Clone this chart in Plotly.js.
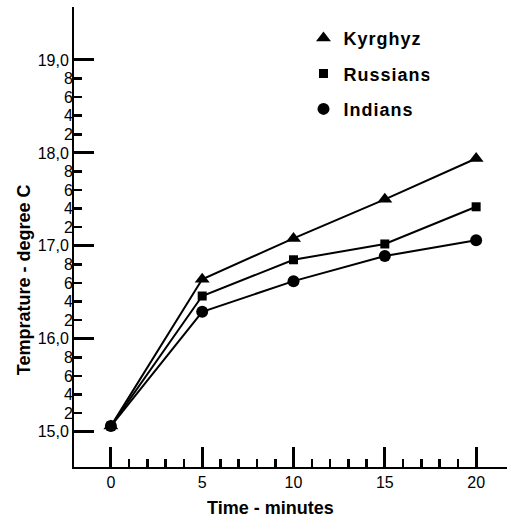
<!DOCTYPE html>
<html>
<head>
<meta charset="utf-8">
<script src="https://cdn.plot.ly/plotly-3.0.1.min.js"></script>
<style>html,body{margin:0;padding:0;background:#fff;}#chart{width:508px;height:518px;}
#chart .legendtext{letter-spacing:1px;}</style>
</head>
<body>
<div id="chart"></div>
<script>
const minutes = [0, 5, 10, 15, 20];
const kyrghyz = [15.06, 16.64, 17.08, 17.50, 17.94];
const russians = [15.06, 16.46, 16.85, 17.02, 17.42];
const indians = [15.06, 16.29, 16.62, 16.89, 17.06];

const yMajorVals = [15, 16, 17, 18, 19];
const yMajorText = ["15,0", "16,0", "17,0", "18,0", "19,0"];
const yMinorVals = [15.2, 15.4, 15.6, 15.8, 16.2, 16.4, 16.6, 16.8, 17.2, 17.4, 17.6, 17.8, 18.2, 18.4, 18.6, 18.8];
const yMinorText = ["2","4","6","8","2","4","6","8","2","4","6","8","2","4","6","8"];
const xMajorVals = [0, 5, 10, 15, 20];
const xMinorVals = [1,2,3,4,6,7,8,9,11,12,13,14,16,17,18,19];

const seriesNames = ["Kyrghyz", "Russians", "Indians"];
const seriesData = [kyrghyz, russians, indians];
const symbols = ["triangle-up", "square", "circle"];
const sizes = [13, 9, 12];

const font = "Liberation Sans, Arial, sans-serif";
const traces = [];
seriesData.forEach((ys, i) => {
  traces.push({
    x: minutes, y: ys, type: "scatter", mode: "lines+markers",
    name: seriesNames[i], showlegend: false,
    line: {color: "#000", width: 2},
    marker: {symbol: symbols[i], size: sizes[i], color: "#000"}
  });
});
seriesNames.forEach((n, i) => {
  traces.push({
    x: [null], y: [null], type: "scatter", mode: "markers",
    name: n, legendgroup: "g" + i, showlegend: true,
    marker: {symbol: symbols[i], size: sizes[i], color: "#000"}
  });
});
// empty traces so the overlay (minor-tick) axes get drawn
traces.push({x: [null], y: [null], xaxis: "x2", yaxis: "y", type: "scatter", mode: "markers", showlegend: false, hoverinfo: "skip"});
traces.push({x: [null], y: [null], xaxis: "x", yaxis: "y2", type: "scatter", mode: "markers", showlegend: false, hoverinfo: "skip"});

const xr = [-2.02, 21.69];
const yr = [14.62, 19.57];
const tf = {family: font, size: 16, color: "#000"};
const layout = {
  width: 508, height: 518,
  margin: {l: 74, r: 1, t: 7, b: 51},
  paper_bgcolor: "#fff", plot_bgcolor: "#fff",
  font: {family: font, color: "#000", size: 15},
  xaxis: {
    range: xr, showgrid: false, zeroline: false, showline: true, linecolor: "#000", linewidth: 2,
    tickmode: "array", tickvals: xMajorVals, ticktext: xMajorVals.map(String),
    ticks: "inside", ticklen: 20, tickwidth: 3, tickcolor: "#000", tickfont: tf
  },
  xaxis2: {
    overlaying: "x", anchor: "y", side: "bottom", range: xr, showgrid: false, zeroline: false, showline: false,
    tickmode: "array", tickvals: xMinorVals, showticklabels: false,
    ticks: "inside", ticklen: 8, tickwidth: 2.5, tickcolor: "#000"
  },
  yaxis: {
    range: yr, showgrid: false, zeroline: false, showline: true, linecolor: "#000", linewidth: 2,
    tickmode: "array", tickvals: yMajorVals, ticktext: yMajorText,
    ticks: "inside", ticklen: 20, tickwidth: 3, tickcolor: "#000", tickfont: tf
  },
  yaxis2: {
    overlaying: "y", anchor: "x", side: "left", range: yr, showgrid: false, zeroline: false, showline: false,
    tickmode: "array", tickvals: yMinorVals, ticktext: yMinorText,
    ticks: "inside", ticklen: 8, tickwidth: 2.5, tickcolor: "#000", tickfont: tf
  },
  legend: {
    x: 0.53, xanchor: "left", y: 0.972, yanchor: "top",
    traceorder: "grouped", tracegroupgap: 9,
    bgcolor: "rgba(0,0,0,0)", borderwidth: 0,
    font: {family: font, size: 18, color: "#000", weight: "bold"}
  },
  annotations: [
    {text: "<b>Time - minutes</b>", xref: "paper", yref: "paper", x: 0.4527, y: -0.089,
     xanchor: "center", yanchor: "middle", showarrow: false, font: {family: font, size: 18, color: "#000"}},
    {text: "<b>Temprature - degree C</b>", xref: "paper", yref: "paper", x: -0.115, y: 0.4065,
     xanchor: "center", yanchor: "middle", textangle: -90, showarrow: false, font: {family: font, size: 18, color: "#000"}}
  ],
  showlegend: true
};
Plotly.newPlot("chart", traces, layout, {displayModeBar: false, staticPlot: true});
</script>
</body>
</html>
